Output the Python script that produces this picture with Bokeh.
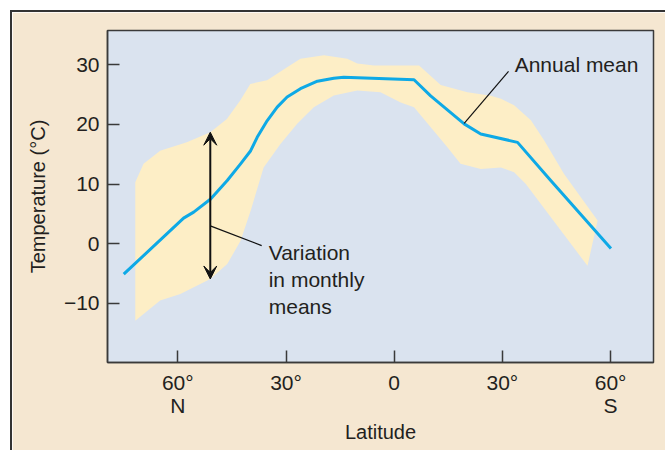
from bokeh.plotting import figure
from bokeh.models import Range1d, FixedTicker, Label, Arrow, VeeHead
from bokeh.embed import file_html
from bokeh.resources import INLINE

# latitude in degrees (north positive), temperature in degC
mean_lat = [75.0, 58.4, 55.6, 50.9, 46.3, 42.6, 39.8, 38.0, 35.2, 32.45,
            29.7, 26.0, 21.3, 16.75, 14.0, -5.5, -10.1, -19.4, -24.0,
            -34.2, -43.4, -60.1]
mean_temp = [-5.1, 4.3, 5.3, 7.5, 10.6, 13.4, 15.6, 17.85, 20.65, 22.9,
             24.6, 26.0, 27.25, 27.75, 27.9, 27.5, 24.8, 20.1, 18.4,
             17.0, 10.6, -0.8]

band_upper_lat = [71.8, 69.5, 64.9, 57.5, 51.0, 46.4, 42.7, 39.9, 35.25, 29.7,
                  26.0, 19.5, 13.0, 10.25, 5.6, -6.9, -12.9, -20.3, -26.8,
                  -29.6, -33.25, -37.9, -41.6, -47.1, -56.4]
band_upper_temp = [10.3, 13.4, 15.6, 17.0, 18.7, 20.9, 24.0, 26.8, 27.4, 29.6,
                   31.0, 31.6, 31.0, 30.2, 29.9, 29.9, 26.6, 25.4, 24.8,
                   24.3, 23.2, 20.7, 17.3, 11.7, 3.9]
band_lower_lat = [71.8, 64.9, 59.3, 51.0, 46.3, 42.6, 39.8, 36.2,
                  31.6, 26.9, 22.3, 16.75, 10.25, 3.8, -1.8, -5.5, -14.75,
                  -18.4, -24.0, -29.6, -33.25, -36.5, -53.6]
band_lower_temp = [-12.9, -9.5, -8.4, -5.9, -3.4, 0.5, 5.55, 12.8,
                   16.7, 20.1, 22.9, 24.85, 25.7, 25.4, 23.7, 22.9, 16.2,
                   13.4, 12.55, 12.8, 12.0, 10.0, -3.7]

x_ticks = [60, 30, 0, -30, -60]
x_tick_labels = ["60°\nN", "30°", "0", "30°", "60°\nS"]
y_ticks = [-10, 0, 10, 20, 30]
y_tick_labels = ["−10", "0", "10", "20", "30"]

FONT = "Liberation Sans"
TXT = "#231f20"
DARK = "#3a3a3a"

p = figure(width=655, height=440, output_backend="svg", toolbar_location=None,
           x_range=Range1d(79.5, -71.9), y_range=Range1d(-19.9, 35.75),
           min_border_left=95, min_border_right=14, min_border_top=18,
           min_border_bottom=90)
p.styles = {"margin-left": "10px", "margin-top": "10px",
            "border-left": "2px solid #333333", "border-top": "2px solid #333333"}
p.border_fill_color = "#f5e7d1"
p.background_fill_color = "#dae3ef"
p.outline_line_color = DARK
p.outline_line_width = 1.5
p.grid.visible = False

# band of monthly means
band_x = band_upper_lat + band_lower_lat[::-1]
band_y = band_upper_temp + band_lower_temp[::-1]
p.patch(band_x, band_y, fill_color="#fdeec6", line_color=None)

# annual mean
p.line(mean_lat, mean_temp, line_color="#0ea9e6", line_width=3,
       line_join="round")

# axes
for ax in (p.xaxis[0], p.yaxis[0]):
    ax.axis_line_color = DARK
    ax.axis_line_width = 1.5
    ax.major_tick_line_color = DARK
    ax.major_tick_line_width = 1.5
    ax.major_tick_in = 12
    ax.major_tick_out = 0
    ax.minor_tick_line_color = None
    ax.major_label_text_font = FONT
    ax.major_label_text_font_size = "21px"
    ax.major_label_text_color = TXT
    ax.axis_label_text_font = FONT
    ax.axis_label_text_font_size = "20px"
    ax.axis_label_text_font_style = "normal"
    ax.axis_label_text_color = TXT
    ax.major_label_standoff = 8

p.xaxis.ticker = FixedTicker(ticks=x_ticks)
p.xaxis.major_label_overrides = dict(zip(x_ticks, x_tick_labels))
p.xaxis.major_label_text_line_height = 1.0
p.xaxis.axis_label = "Latitude"
p.xaxis.axis_label_standoff = 1

p.yaxis.ticker = FixedTicker(ticks=y_ticks)
p.yaxis.major_label_overrides = dict(zip(y_ticks, y_tick_labels))
p.yaxis.axis_label = "Temperature (°C)"
p.yaxis.axis_label_standoff = 12

# double arrow for variation
p.add_layout(Arrow(x_start=51.0, y_start=-5.9, x_end=51.0, y_end=18.7,
                   line_color="#111111", line_width=2,
                   start=VeeHead(size=13, fill_color="#111111", line_color="#111111"),
                   end=VeeHead(size=13, fill_color="#111111", line_color="#111111")))

# leader lines
p.line([51.0, 36.75], [3.0, -0.3], line_color="#111111", line_width=1.2)
p.line([-31.7, -19.4], [28.9, 20.2], line_color="#111111", line_width=1.2)

# annotation texts
for txt, yy in (("Variation", -1.45), ("in monthly", -6.0), ("means", -10.5)):
    p.add_layout(Label(x=34.8, y=yy, text=txt, text_align="left",
                       text_baseline="middle", text_font=FONT,
                       text_font_size="21px", text_color=TXT))
p.add_layout(Label(x=-33.4, y=30.0, text="Annual mean", text_align="left",
                   text_baseline="middle", text_font=FONT,
                   text_font_size="21px", text_color=TXT))

open("out.html", "w").write(file_html(p, INLINE))
